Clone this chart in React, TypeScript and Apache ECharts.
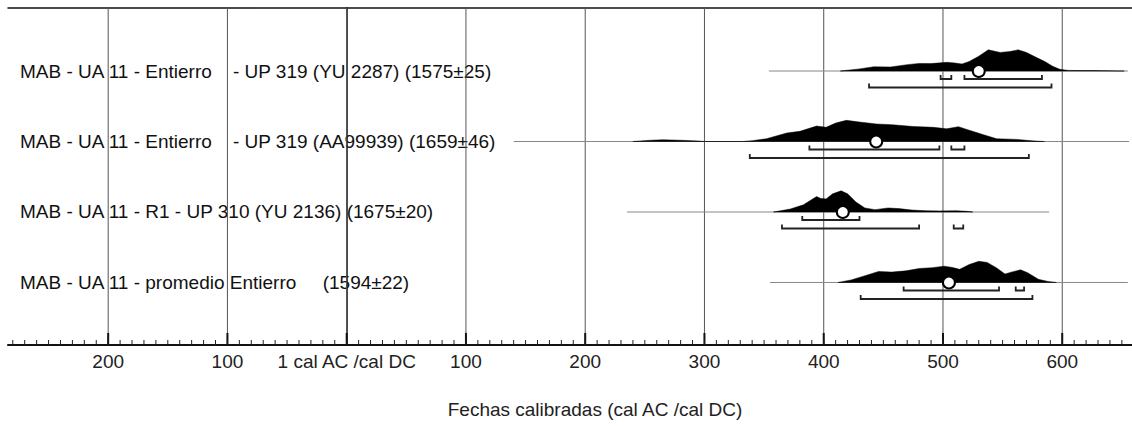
import React, { useEffect, useRef } from 'react';
import * as echarts from 'echarts';

// ---------- data ----------
const ROW_LABELS = [
  'MAB - UA 11 - Entierro \u00a0\u00a0\u00a0- UP 319 (YU 2287) (1575±25)',
  'MAB - UA 11 - Entierro \u00a0\u00a0\u00a0- UP 319 (AA99939) (1659±46)',
  'MAB - UA 11 - R1 - UP 310 (YU 2136) (1675±20)',
  'MAB - UA 11 - promedio Entierro \u00a0\u00a0\u00a0\u00a0(1594±22)',
];
const ROW_Y = [4, 3, 2, 1];

// range of each row's thin base line (cal AD)
const LINE_RANGES = [
  [354, 655],
  [140, 656],
  [235, 589],
  [355, 655],
];

// probability distributions: [year, relative probability 0..100]
const DIST_1 = [
  [414, 0], [430, 10], [442, 20], [456, 19], [470, 30], [480, 36], [490, 35], [503, 41],
  [510, 38], [516, 33], [522, 45], [530, 70], [538, 100], [548, 88], [556, 92], [563, 100],
  [570, 88], [578, 65], [585, 46], [592, 22], [598, 8], [605, 3], [615, 2], [625, 2],
  [635, 1.5], [645, 0.5], [652, 0],
];
const DIST_2 = [
  [240, 0], [255, 6], [265, 8], [280, 6], [296, 2], [300, 0], [332, 0], [340, 4],
  [352, 13], [369, 40], [380, 48], [394, 73], [402, 67], [410, 87], [419, 100], [430, 92],
  [444, 83], [458, 79], [475, 71], [492, 67], [503, 60], [513, 70], [520, 57], [534, 32],
  [545, 13], [562, 10], [575, 3], [585, 0],
];
const DIST_3 = [
  [358, 0], [372, 14], [383, 34], [394, 73], [397.5, 64], [402, 62], [407.5, 86],
  [414.6, 100], [420, 86], [427, 47], [434.5, 19], [443, 11], [454, 19], [463, 16],
  [474, 9], [486, 6], [497, 5], [511, 6], [520, 3], [525, 0],
];
const DIST_4 = [
  [412, 0], [423, 12], [434, 31], [446, 52], [457, 49], [469, 55], [480, 66], [491, 70],
  [501, 77], [508, 71], [514, 62], [522, 85], [530, 100], [537, 95], [545, 69], [552, 40],
  [558, 50], [565, 60], [571, 46], [580, 15], [588, 5], [595, 0],
];
const DISTS = [DIST_1, DIST_2, DIST_3, DIST_4];

const MEANS = [530, 444, 416, 505];

const RANGES_68 = [
  [[498, 507], [518, 583]],
  [[388, 497], [507, 518]],
  [[382, 430]],
  [[467, 547], [561, 568]],
];
const RANGES_95 = [
  [[438, 591]],
  [[338, 572]],
  [[365, 480], [509, 517]],
  [[431, 575]],
];

const TICK_VALUES = [-200, -100, 0, 100, 200, 300, 400, 500, 600];
const TICK_LABELS = ['200', '100', '1 cal AC /cal DC', '100', '200', '300', '400', '500', '600'];
const MINOR_STEP = 10;

const X_MIN = -284;
const X_MAX = 658.5;
const Y_MIN = 0.113;
const Y_MAX = 4.894;
const PEAK_H = 0.3; // height of a 100% peak in row units

const FONT = '"Liberation Sans", Arial, Helvetica, sans-serif';

export default function App() {
  const ref = useRef<HTMLDivElement>(null);

  useEffect(() => {
    if (!ref.current) return;
    const chart = echarts.init(ref.current, undefined, { renderer: 'svg' });

    const minorTicks: number[][] = [];
    for (let v = -280; v <= X_MAX; v += MINOR_STEP) minorTicks.push([v, Y_MIN]);

    const bracketData: number[][] = [];
    RANGES_68.forEach((rs, i) => rs.forEach(([a, b]) => bracketData.push([a, b, ROW_Y[i], 68])));
    RANGES_95.forEach((rs, i) => rs.forEach(([a, b]) => bracketData.push([a, b, ROW_Y[i], 95])));

    const option: any = {
      animation: false,
      backgroundColor: '#fff',
      textStyle: { fontFamily: FONT },
      grid: { left: 8, top: 8, right: 0, height: 337, containLabel: false },
      xAxis: [
        {
          type: 'value',
          min: X_MIN,
          max: X_MAX,
          position: 'bottom',
          axisLine: { show: true, lineStyle: { color: '#111', width: 2 } },
          axisTick: { show: false },
          splitLine: { show: false },
          axisLabel: {
            customValues: TICK_VALUES,
            formatter: (v: number) => {
              const i = TICK_VALUES.indexOf(v);
              return i >= 0 ? TICK_LABELS[i] : '';
            },
            fontSize: 19,
            color: '#222',
            margin: 7,
            fontFamily: FONT,
          },
          name: 'Fechas calibradas (cal AC /cal DC)',
          nameLocation: 'middle',
          nameGap: 55,
          nameTextStyle: { fontSize: 19, color: '#222', fontFamily: FONT, padding: [0, 0, 0, 50] },
        },
        {
          type: 'value',
          min: X_MIN,
          max: X_MAX,
          position: 'top',
          axisLine: { show: true, lineStyle: { color: '#111', width: 1.5 } },
          axisTick: { show: false },
          axisLabel: { show: false },
          splitLine: { show: false },
        },
      ],
      yAxis: {
        type: 'value',
        min: Y_MIN,
        max: Y_MAX,
        position: 'left',
        axisLine: { show: true, lineStyle: { color: '#111', width: 1.5 } },
        axisTick: { show: false },
        splitLine: { show: false },
        axisLabel: {
          inside: true,
          margin: 12,
          customValues: ROW_Y,
          formatter: (v: number) => {
            const i = ROW_Y.indexOf(v);
            return i >= 0 ? ROW_LABELS[i] : '';
          },
          fontSize: 19,
          color: '#111',
          fontFamily: FONT,
          align: 'left',
        },
      },
      series: [
        // grid lines + major ticks
        {
          type: 'custom',
          z: 1,
          data: TICK_VALUES.map((v) => [v, Y_MIN]),
          renderItem: (params: any, api: any) => {
            const x = api.value(0);
            const top = api.coord([x, Y_MAX]);
            const bot = api.coord([x, Y_MIN]);
            return {
              type: 'group',
              children: [
                { type: 'line', shape: { x1: top[0], y1: top[1], x2: bot[0], y2: bot[1] }, style: { stroke: '#555', lineWidth: 1 } },
                { type: 'line', shape: { x1: bot[0], y1: bot[1], x2: bot[0], y2: bot[1] - 12 }, style: { stroke: '#111', lineWidth: 2 } },
              ],
            };
          },
        },
        // minor ticks
        {
          type: 'custom',
          z: 1,
          data: minorTicks,
          renderItem: (params: any, api: any) => {
            const p = api.coord([api.value(0), Y_MIN]);
            return { type: 'line', shape: { x1: p[0], y1: p[1], x2: p[0], y2: p[1] - 5 }, style: { stroke: '#222', lineWidth: 1 } };
          },
        },
        // thin base lines of each row
        {
          type: 'custom',
          z: 2,
          data: LINE_RANGES.map(([a, b], i) => [a, ROW_Y[i], b]),
          renderItem: (params: any, api: any) => {
            const s = api.coord([api.value(0), api.value(1)]);
            const e = api.coord([api.value(2), api.value(1)]);
            return { type: 'line', shape: { x1: s[0], y1: s[1], x2: e[0], y2: e[1] }, style: { stroke: '#888', lineWidth: 1 } };
          },
        },
        // distributions
        {
          type: 'custom',
          z: 3,
          data: ROW_Y.map((y, i) => [DISTS[i][0][0], y]),
          renderItem: (params: any, api: any) => {
            const i = params.dataIndex;
            const y = ROW_Y[i];
            const pts = DISTS[i].map(([yr, p]) => api.coord([yr, y + (p / 100) * PEAK_H]));
            return { type: 'polygon', shape: { points: pts }, style: { fill: '#000', stroke: '#000', lineWidth: 0.5 } };
          },
        },
        // 68.2% and 95.4% ranges (brackets)
        {
          type: 'custom',
          z: 4,
          data: bracketData,
          renderItem: (params: any, api: any) => {
            const s = api.coord([api.value(0), api.value(2)]);
            const e = api.coord([api.value(1), api.value(2)]);
            const dy = api.value(3) === 68 ? 8 : 16.5;
            const y = s[1] + dy;
            return {
              type: 'polyline',
              shape: { points: [[s[0], y - 4], [s[0], y], [e[0], y], [e[0], y - 4]] },
              style: { stroke: '#222', lineWidth: 1.8, fill: 'none' },
            };
          },
        },
        // mean markers
        {
          type: 'scatter',
          z: 5,
          symbol: 'circle',
          symbolSize: 12,
          data: MEANS.map((m, i) => [m, ROW_Y[i]]),
          itemStyle: { color: '#fff', borderColor: '#000', borderWidth: 2, opacity: 1 },
        },
      ],
    };

    chart.setOption(option);
    return () => chart.dispose();
  }, []);

  return <div ref={ref} style={{ position: 'absolute', left: 0, top: 0, width: 1132, height: 426 }} />;
}
